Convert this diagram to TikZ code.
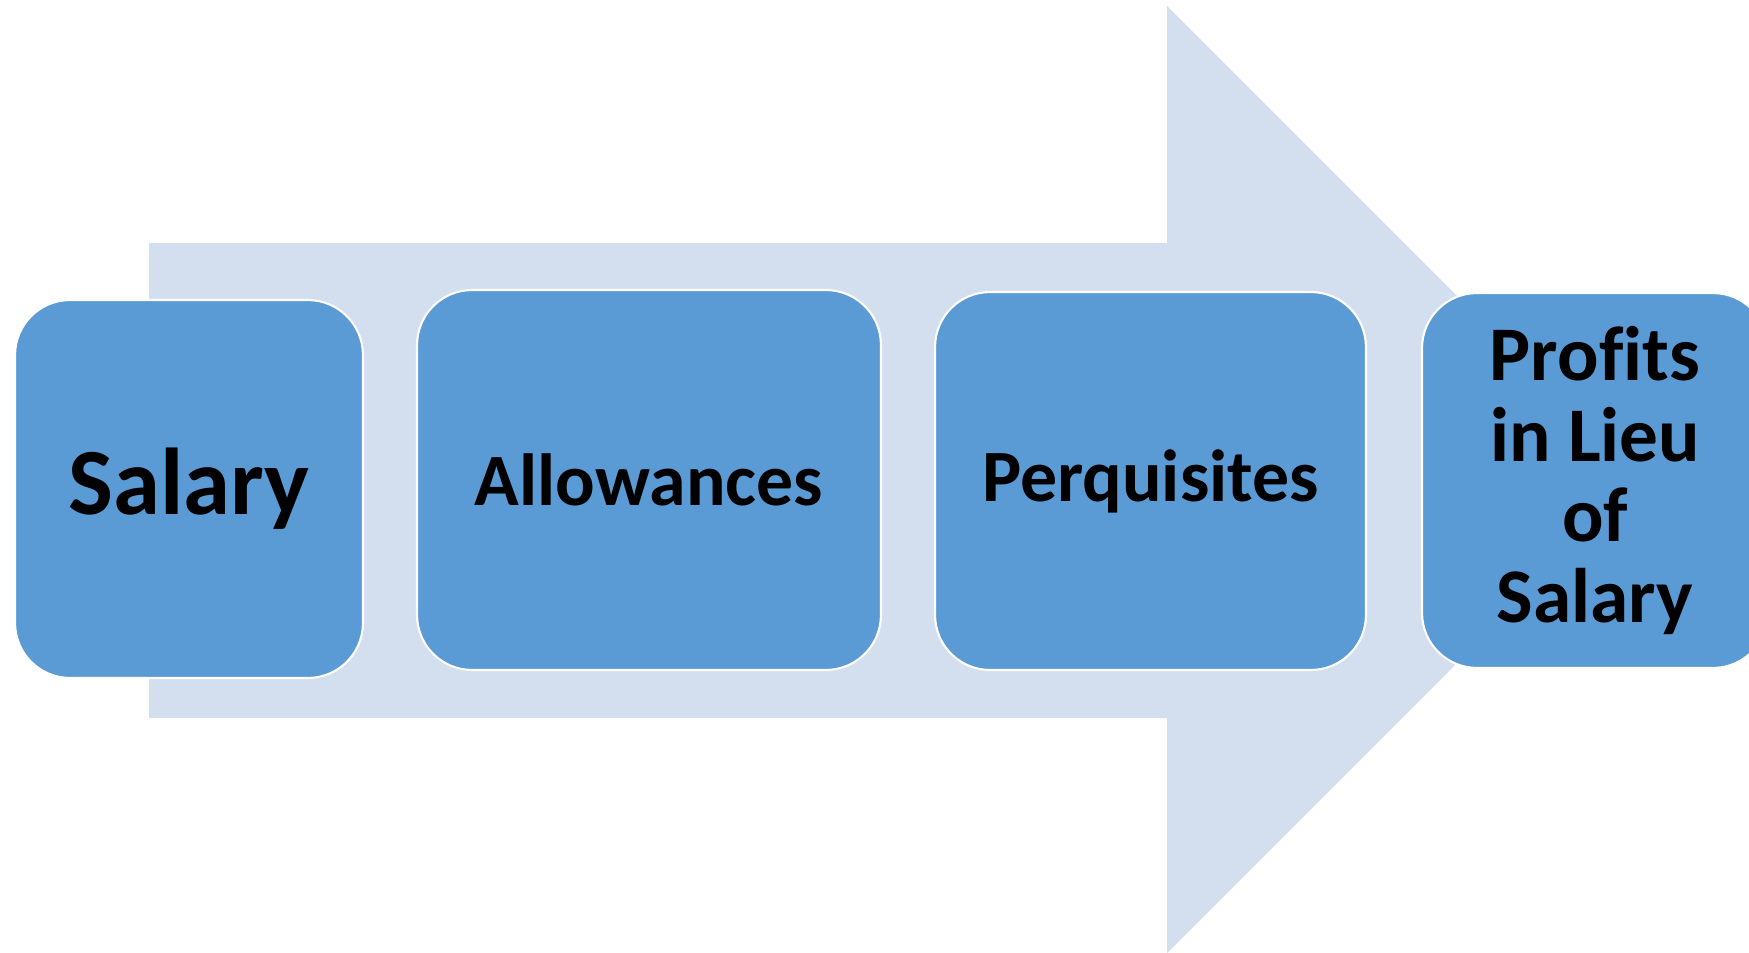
\documentclass[tikz,border=0pt]{standalone}
\usepackage{fontspec}
\setmainfont[Ligatures=NoCommon]{Carlito}
\definecolor{pale}{HTML}{D3DEEF}
\definecolor{boxblue}{HTML}{5B9BD5}
\begin{document}
\begin{tikzpicture}[x=0.02cm,y=-0.02cm,
	box/.style={draw=white,line width=1.2pt,fill=boxblue,rounded corners=1.1cm,
		minimum height=7.56cm,inner sep=0pt,align=center,text=black,font=\bfseries}]
	\useasboundingbox (0,0) rectangle (1749,953);
	\clip (0,0) rectangle (1749,953);
	% big arrow behind
	\fill[pale] (149,243)--(1167,243)--(1167,6)--(1640.5,479.5)--(1167,953)--(1167,718)--(149,718)--cycle;
	\node[box,minimum width=6.96cm,font=\bfseries\fontsize{54}{56}\selectfont] (salary) at (189,489) {Salary};
	\node[box,minimum width=9.28cm,minimum height=7.6cm,font=\bfseries\fontsize{42}{44}\selectfont] (allow) at (649,480) {Allowances};
	\node[box,minimum width=8.62cm,font=\bfseries\fontsize{42}{44}\selectfont] (perq) at (1150.5,481) {Perquisites};
	\node[box,minimum width=6.92cm,minimum height=7.5cm,font=\bfseries\fontsize{44}{46}\selectfont] (profits) at (1595,480.5) {Profits\\in Lieu\\of\\Salary};
\end{tikzpicture}
\end{document}
